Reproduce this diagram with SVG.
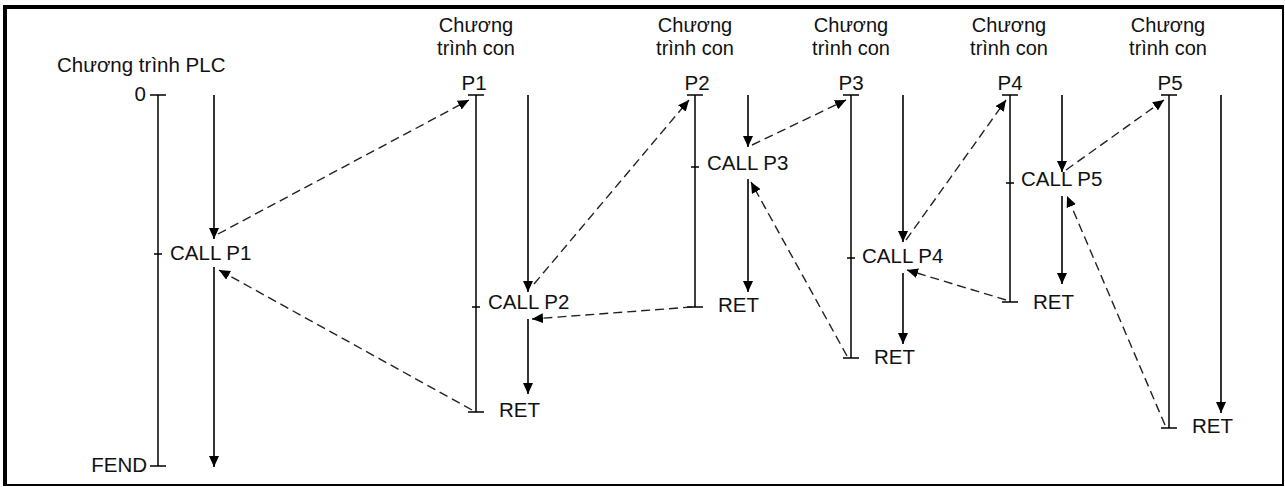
<svg xmlns="http://www.w3.org/2000/svg" width="1285" height="487" viewBox="0 0 1285 487">
<defs>
<marker id="ah" markerUnits="userSpaceOnUse" markerWidth="12" markerHeight="10" refX="11" refY="5" orient="auto"><path d="M0,0 L11,5 L0,10 Z" fill="#000"/></marker>
<marker id="ahd" markerUnits="userSpaceOnUse" markerWidth="12" markerHeight="10" refX="11" refY="5" orient="auto"><path d="M0,0 L11,5 L0,10 Z" fill="#000"/></marker>
<style>
text{font-family:"Liberation Sans",Arial,sans-serif;font-size:20.5px;fill:#111}
.hd{font-size:20px;text-anchor:middle}
.pl{text-anchor:middle}
.ax{stroke:#000;stroke-width:1.5;fill:none}
.fl{stroke:#000;stroke-width:1.6;fill:none;marker-end:url(#ah)}
.ds{stroke:#222;stroke-width:1.4;fill:none;stroke-dasharray:9 5;marker-end:url(#ahd)}
</style>
</defs>
<rect x="1" y="1" width="1283" height="485" fill="#fff"/>
<g id="frame">
<line x1="4" y1="7" x2="1283" y2="7" stroke="#000" stroke-width="4"/>
<line x1="5" y1="5" x2="5" y2="486" stroke="#000" stroke-width="4"/>
<line x1="1283" y1="5" x2="1283" y2="486" stroke="#000" stroke-width="2"/>
<line x1="4" y1="485" x2="1284" y2="485" stroke="#000" stroke-width="2"/>
</g>
<g id="plc">
<text x="57" y="72">Chương trình PLC</text>
<text x="146" y="101" text-anchor="end">0</text>
<text x="147" y="472" text-anchor="end">FEND</text>
<path class="ax" d="M158,95 V466 M150,95 H166 M150,466 H166 M154,254 H162"/>
<text x="170" y="260">CALL P1</text>
</g>
<g id="p1">
<text class="hd" x="476" y="32">Chương</text>
<text class="hd" x="476" y="55">trình con</text>
<text class="pl" x="474" y="90">P1</text>
<path class="ax" d="M476,95 V412 M468,95 H484 M468,412 H484 M472,307 H480"/>
<text x="488" y="309">CALL P2</text>
<text x="499" y="417">RET</text>
</g>
<g id="p2">
<text class="hd" x="695" y="32">Chương</text>
<text class="hd" x="695" y="55">trình con</text>
<text class="pl" x="697" y="90">P2</text>
<path class="ax" d="M695,95 V307 M687,95 H703 M687,307 H703 M691,167 H699"/>
<text x="707" y="170">CALL P3</text>
<text x="718" y="312">RET</text>
</g>
<g id="p3">
<text class="hd" x="851" y="32">Chương</text>
<text class="hd" x="851" y="55">trình con</text>
<text class="pl" x="851" y="90">P3</text>
<path class="ax" d="M851,95 V358 M843,95 H859 M843,358 H859 M847,258 H855"/>
<text x="862" y="263">CALL P4</text>
<text x="874" y="364">RET</text>
</g>
<g id="p4">
<text class="hd" x="1009" y="32">Chương</text>
<text class="hd" x="1009" y="55">trình con</text>
<text class="pl" x="1010" y="90">P4</text>
<path class="ax" d="M1010,95 V302 M1002,95 H1018 M1002,302 H1018 M1006,183 H1014"/>
<text x="1021" y="186">CALL P5</text>
<text x="1033" y="309">RET</text>
</g>
<g id="p5">
<text class="hd" x="1168" y="32">Chương</text>
<text class="hd" x="1168" y="55">trình con</text>
<text class="pl" x="1170" y="90">P5</text>
<path class="ax" d="M1169,95 V428 M1161,95 H1177 M1161,428 H1177"/>
<text x="1192" y="433">RET</text>
</g>
<g id="connectors">
<line class="fl" x1="214" y1="95" x2="214" y2="239"/>
<line class="fl" x1="214" y1="267" x2="214" y2="467"/>
<line class="fl" x1="528" y1="95" x2="528" y2="292"/>
<line class="fl" x1="528" y1="319" x2="528" y2="394"/>
<line class="fl" x1="748" y1="95" x2="748" y2="147"/>
<line class="fl" x1="748" y1="179" x2="748" y2="292"/>
<line class="fl" x1="903" y1="95" x2="903" y2="242"/>
<line class="fl" x1="903" y1="273" x2="903" y2="344"/>
<line class="fl" x1="1062" y1="95" x2="1062" y2="172"/>
<line class="fl" x1="1062" y1="196" x2="1062" y2="284"/>
<line class="fl" x1="1221" y1="95" x2="1221" y2="413"/>
<line class="ds" x1="218" y1="234" x2="469" y2="100"/>
<line class="ds" x1="472" y1="410" x2="219" y2="270"/>
<line class="ds" x1="534" y1="284" x2="689" y2="100"/>
<line class="ds" x1="692" y1="307" x2="532" y2="319"/>
<line class="ds" x1="752" y1="145" x2="846" y2="100"/>
<line class="ds" x1="847" y1="356" x2="751" y2="182"/>
<line class="ds" x1="906" y1="240" x2="1006" y2="100"/>
<line class="ds" x1="1006" y1="300" x2="907" y2="270"/>
<line class="ds" x1="1066" y1="170" x2="1164" y2="100"/>
<line class="ds" x1="1165" y1="425" x2="1067" y2="196"/>
</g>
</svg>
